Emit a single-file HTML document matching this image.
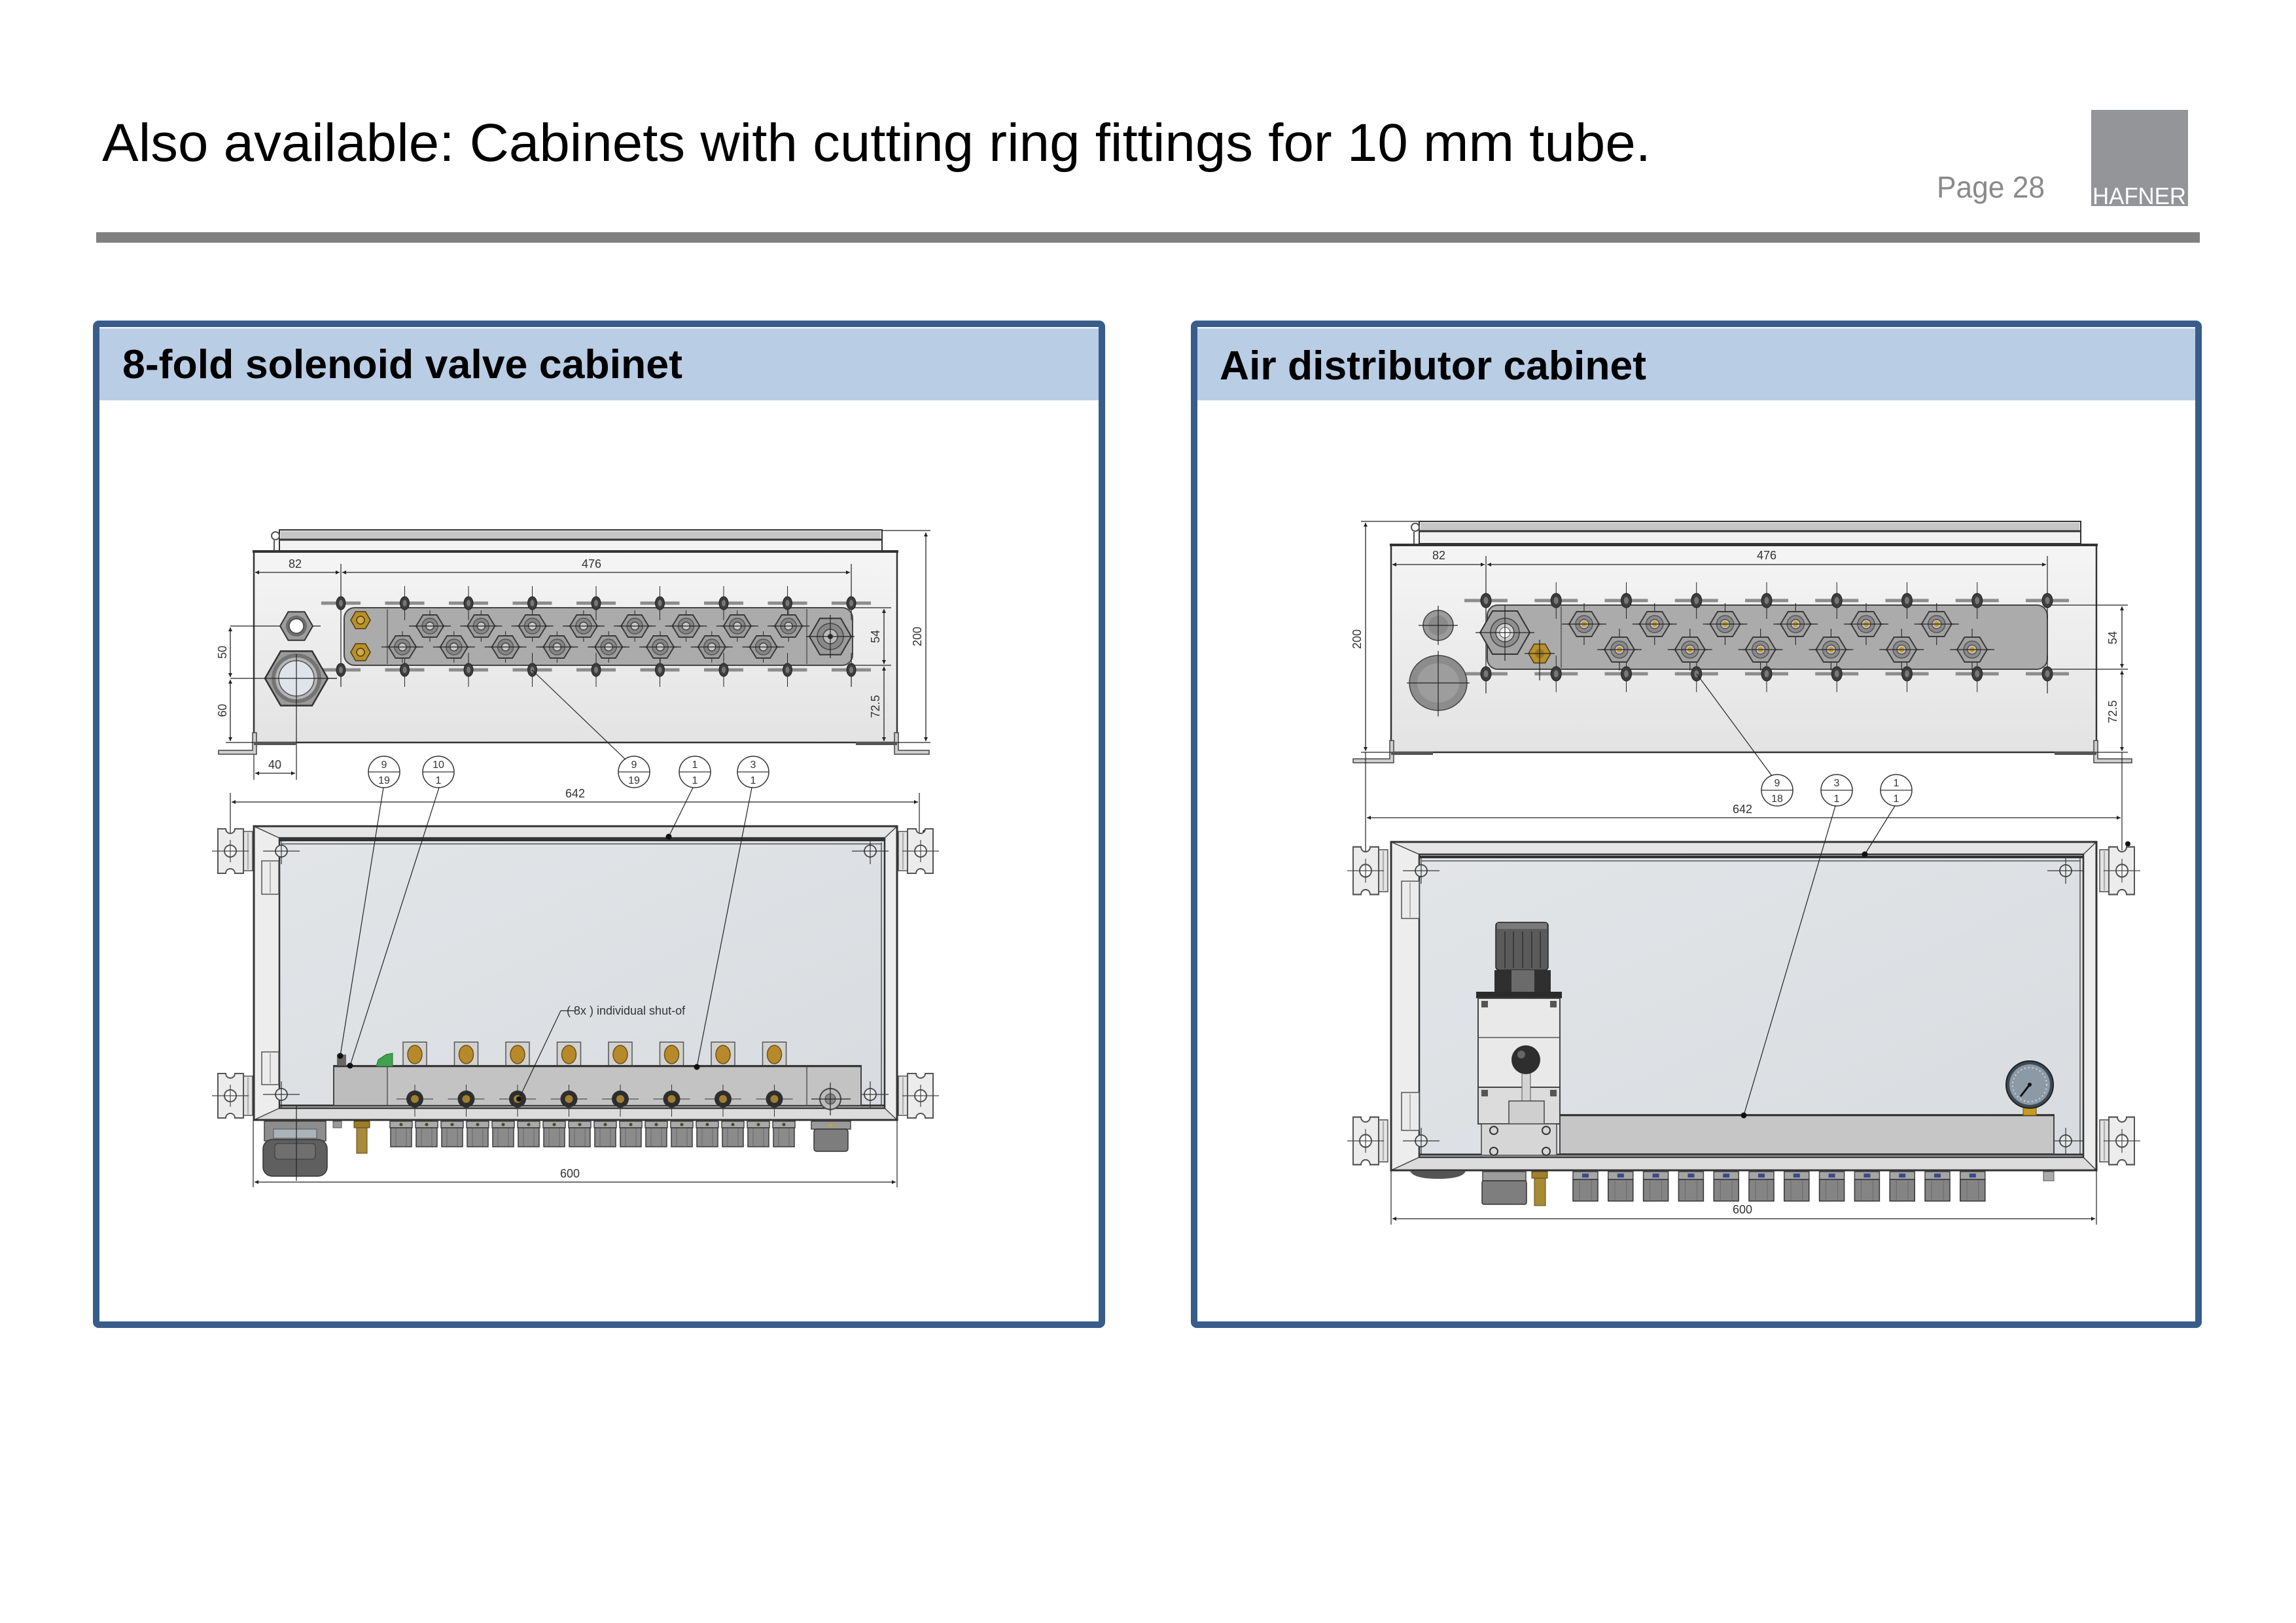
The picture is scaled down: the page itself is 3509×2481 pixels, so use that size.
<!DOCTYPE html>
<html><head><meta charset="utf-8">
<style>
html,body{margin:0;padding:0;background:#fff;}
svg{display:block;}
.t{font-family:"Liberation Sans",Arial,sans-serif;}
.c{font-family:"Liberation Sans Narrow","Liberation Sans",sans-serif;font-size:18px;fill:#333;}
.b{font-family:"Liberation Sans Narrow","Liberation Sans",sans-serif;font-size:16px;fill:#333;text-anchor:middle;}
.d{stroke:#222;stroke-width:1.3;fill:none;}
.l{stroke:#222;stroke-width:1.2;fill:none;}
</style></head><body>
<svg width="3509" height="2481" viewBox="0 0 3509 2481" xmlns="http://www.w3.org/2000/svg">
<defs>
 <marker id="ar" viewBox="0 0 10 10" refX="10" refY="5" markerWidth="14" markerHeight="6" orient="auto-start-reverse" markerUnits="userSpaceOnUse">
  <path d="M0,0 L10,5 L0,10 z" fill="#222"/>
 </marker>
 <linearGradient id="gTop" x1="0" y1="0" x2="0" y2="1">
  <stop offset="0" stop-color="#f5f5f5"/><stop offset="1" stop-color="#e3e3e3"/>
 </linearGradient>
 <linearGradient id="gPan" x1="0" y1="0" x2="1" y2="1">
  <stop offset="0" stop-color="#e2e5e8"/><stop offset="1" stop-color="#d8dce0"/>
 </linearGradient>
 <g id="hx">
  <line x1="-32" y1="0" x2="32" y2="0" stroke="#222" stroke-width="1.3"/>
  <line x1="0" y1="-24" x2="0" y2="24" stroke="#222" stroke-width="1"/>
  <polygon points="21,0 10.5,-17 -10.5,-17 -21,0 -10.5,17 10.5,17" fill="#9d9d9d" stroke="#3a3a3a" stroke-width="2"/>
  <circle r="12" fill="#858585" stroke="#555" stroke-width="1.5"/>
  <circle r="6" fill="#c8c8c8" stroke="#444" stroke-width="1.5"/>
  <line x1="-26" y1="0" x2="26" y2="0" stroke="#222" stroke-width="1.3"/>
 </g>
 <g id="hr">
  <line x1="-34" y1="0" x2="34" y2="0" stroke="#222" stroke-width="1.3"/>
  <line x1="0" y1="-32" x2="0" y2="32" stroke="#222" stroke-width="1.1"/>
  <polygon points="23,0 11.5,-19 -11.5,-19 -23,0 -11.5,19 11.5,19" fill="#a2a2a2" stroke="#3a3a3a" stroke-width="2"/>
  <circle r="13" fill="#8a8a8a" stroke="#555" stroke-width="1.5"/>
  <circle r="7" fill="#bdbdbd" stroke="#444" stroke-width="1.2"/>
  <circle r="4" fill="#c8961e"/>
  <line x1="-28" y1="0" x2="28" y2="0" stroke="#222" stroke-width="1.3"/>
 </g>
 <g id="sc">
  <line x1="0" y1="-26" x2="0" y2="26" stroke="#222" stroke-width="1"/>
  <line x1="-30" y1="0" x2="30" y2="0" stroke="#8c8c8c" stroke-width="5"/>
  <ellipse rx="7" ry="10" fill="#3d3d3d" stroke="#222"/>
  <ellipse rx="3" ry="5" fill="#777"/>
 </g>
 <g id="sr">
  <line x1="0" y1="-28" x2="0" y2="28" stroke="#222" stroke-width="1"/>
  <line x1="-33" y1="0" x2="33" y2="0" stroke="#8c8c8c" stroke-width="5"/>
  <ellipse rx="8" ry="11" fill="#3d3d3d" stroke="#222"/>
  <ellipse rx="3.5" ry="5.5" fill="#777"/>
 </g>
 <g id="fb">
  <rect x="-17" y="0" width="34" height="10" fill="#a9a9a9" stroke="#444" stroke-width="1.5"/>
  <circle cx="0" cy="5" r="2.5" fill="#4a4a20"/>
  <rect x="-16" y="10" width="32" height="29" fill="#8b8b8b" stroke="#3a3a3a" stroke-width="1.5"/>
  <line x1="-8" y1="11" x2="-8" y2="38" stroke="#6a6a6a"/>
  <line x1="8" y1="11" x2="8" y2="38" stroke="#6a6a6a"/>
 </g>
 <g id="fr">
  <rect x="-19" y="0" width="38" height="12" fill="#a5a5a5" stroke="#444" stroke-width="1.5"/>
  <rect x="-5" y="3" width="10" height="6" fill="#3a4a8a"/>
  <rect x="-19" y="12" width="38" height="33" fill="#848484" stroke="#333" stroke-width="1.5"/>
  <line x1="-9" y1="13" x2="-9" y2="44" stroke="#6a6a6a"/>
  <line x1="9" y1="13" x2="9" y2="44" stroke="#6a6a6a"/>
 </g>
 <g id="tb">
  <rect x="20" y="-30" width="14" height="60" fill="#e2e2e2" stroke="#555" stroke-width="1.5"/>
  <line x1="27" y1="-28" x2="27" y2="28" stroke="#777"/>
  <path d="M-19,-34 H-7 A7,7 0 0 0 7,-34 H20 V34 H7 A7,7 0 0 0 -7,34 H-19 Z" fill="#ececec" stroke="#555" stroke-width="2"/>
  <circle r="9" fill="#fafafa" stroke="#555" stroke-width="2"/>
  <line x1="-28" y1="0" x2="28" y2="0" stroke="#444" stroke-width="1.2"/>
  <line x1="0" y1="-17" x2="0" y2="17" stroke="#444" stroke-width="1.2"/>
 </g>
 <g id="mh">
  <circle r="9" fill="#e6e8ea" stroke="#444" stroke-width="1.8"/>
  <line x1="-28" y1="0" x2="28" y2="0" stroke="#333" stroke-width="1.2"/>
  <line x1="0" y1="-20" x2="0" y2="20" stroke="#333" stroke-width="1.2"/>
 </g>
 <g id="bl">
  <circle r="24" fill="#fff" stroke="#333" stroke-width="1.5"/>
  <line x1="-24" y1="0" x2="24" y2="0" stroke="#333" stroke-width="1.3"/>
 </g>
</defs>

<!-- ===== Page header ===== -->
<text class="t" x="156" y="246" font-size="82" fill="#000" textLength="2367" lengthAdjust="spacingAndGlyphs">Also available: Cabinets with cutting ring fittings for 10 mm tube.</text>
<text class="t" x="2960" y="302" font-size="46" fill="#8a8a8a" textLength="165" lengthAdjust="spacingAndGlyphs">Page 28</text>
<rect x="3196" y="168" width="148" height="147" fill="#939598"/>
<text class="t" x="3198" y="312" font-size="36" fill="#fff" textLength="143" lengthAdjust="spacingAndGlyphs">HAFNER</text>
<rect x="147" y="355" width="3215" height="16" fill="#808080"/>

<!-- ===== Panels ===== -->
<rect x="147" y="495" width="1537" height="1530" rx="4" fill="#fff" stroke="#385d8a" stroke-width="10"/>
<rect x="152" y="502" width="1527" height="110" fill="#b9cde5"/>
<text class="t" x="187" y="578" font-size="62" font-weight="bold" fill="#000" textLength="856" lengthAdjust="spacingAndGlyphs">8-fold solenoid valve cabinet</text>

<rect x="1825" y="495" width="1535" height="1530" rx="4" fill="#fff" stroke="#385d8a" stroke-width="10"/>
<rect x="1830" y="502" width="1525" height="110" fill="#b9cde5"/>
<text class="t" x="1864" y="580" font-size="62" font-weight="bold" fill="#000" textLength="652" lengthAdjust="spacingAndGlyphs">Air distributor cabinet</text>

<!-- ===== LEFT: top view ===== -->
<rect x="427" y="810" width="921" height="32" fill="#f2f2f2" stroke="#333" stroke-width="2"/>
<rect x="429" y="812" width="917" height="12" fill="#c6c6c6"/>
<line x1="427" y1="825" x2="1348" y2="825" stroke="#333" stroke-width="3"/>
<circle cx="421" cy="819" r="6" fill="none" stroke="#555" stroke-width="2"/>
<line x1="419" y1="826" x2="419" y2="842" stroke="#555" stroke-width="2"/>
<rect x="388" y="843" width="983" height="292" fill="url(#gTop)" stroke="#333" stroke-width="2.5"/>
<line x1="386" y1="843" x2="1373" y2="843" stroke="#333" stroke-width="4"/>
<path d="M334,1147 H386 V1120 H392 V1153 H334 Z" fill="#cfcfcf" stroke="#444" stroke-width="1.5"/>
<path d="M1420,1147 H1373 V1120 H1367 V1153 H1420 Z" fill="#cfcfcf" stroke="#444" stroke-width="1.5"/>
<rect x="388" y="1134" width="64" height="5" fill="#555"/>
<rect x="1308" y="1134" width="63" height="5" fill="#555"/>

<!-- dims top -->
<line class="d" x1="390" y1="875" x2="519" y2="875" marker-start="url(#ar)" marker-end="url(#ar)"/>
<line class="d" x1="523" y1="875" x2="1299" y2="875" marker-start="url(#ar)" marker-end="url(#ar)"/>
<line class="l" x1="521" y1="862" x2="521" y2="1050"/>
<line class="l" x1="1301" y1="862" x2="1301" y2="1050"/>
<text class="c" x="451" y="868" text-anchor="middle">82</text>
<text class="c" x="904" y="868" text-anchor="middle">476</text>

<!-- manifold -->
<rect x="526" y="929" width="777" height="88" rx="16" fill="#ababab" stroke="#444" stroke-width="2"/>
<line x1="592" y1="931" x2="592" y2="1015" stroke="#555" stroke-width="1.5"/>
<line x1="1233" y1="931" x2="1233" y2="1015" stroke="#555" stroke-width="1.5"/>
<line class="l" x1="1303" y1="929" x2="1362" y2="929"/>
<line class="l" x1="1303" y1="1017" x2="1362" y2="1017"/>

<!-- screws -->
<use href="#sc" x="521" y="922"/><use href="#sc" x="618.5" y="922"/><use href="#sc" x="716" y="922"/>
<use href="#sc" x="813.5" y="922"/><use href="#sc" x="911" y="922"/><use href="#sc" x="1008.5" y="922"/>
<use href="#sc" x="1106" y="922"/><use href="#sc" x="1203.5" y="922"/><use href="#sc" x="1301" y="922"/>
<use href="#sc" x="521" y="1024"/><use href="#sc" x="618.5" y="1024"/><use href="#sc" x="716" y="1024"/>
<use href="#sc" x="813.5" y="1024"/><use href="#sc" x="911" y="1024"/><use href="#sc" x="1008.5" y="1024"/>
<use href="#sc" x="1106" y="1024"/><use href="#sc" x="1203.5" y="1024"/><use href="#sc" x="1301" y="1024"/>

<!-- brass fittings -->
<g stroke="#4d3a0c" stroke-width="1.5">
<polygon points="566,948 558.5,935 543.5,935 536,948 543.5,961 558.5,961" fill="#b8902c"/>
<circle cx="551" cy="948" r="6" fill="#d4aa45"/>
<polygon points="566,997 558.5,984 543.5,984 536,997 543.5,1010 558.5,1010" fill="#b8902c"/>
<circle cx="551" cy="997" r="6" fill="#d4aa45"/>
</g>

<!-- hex fittings -->
<use href="#hx" x="657" y="957"/><use href="#hx" x="735.3" y="957"/><use href="#hx" x="813.6" y="957"/><use href="#hx" x="891.9" y="957"/>
<use href="#hx" x="970.2" y="957"/><use href="#hx" x="1048.5" y="957"/><use href="#hx" x="1126.8" y="957"/><use href="#hx" x="1205.1" y="957"/>
<use href="#hx" x="615" y="989"/><use href="#hx" x="693.8" y="989"/><use href="#hx" x="772.6" y="989"/><use href="#hx" x="851.4" y="989"/>
<use href="#hx" x="930.2" y="989"/><use href="#hx" x="1009" y="989"/><use href="#hx" x="1087.8" y="989"/><use href="#hx" x="1166.6" y="989"/>

<!-- right big fitting -->
<polygon points="1301,973 1285,945.3 1253,945.3 1237,973 1253,1000.7 1285,1000.7" fill="#9a9a9a" stroke="#333" stroke-width="2"/>
<circle cx="1269" cy="973" r="20" fill="#888" stroke="#444" stroke-width="1.5"/>
<circle cx="1269" cy="973" r="11" fill="#bbb" stroke="#444" stroke-width="1.5"/>
<circle cx="1269" cy="973" r="4" fill="#333"/>
<line class="l" x1="1232" y1="973" x2="1306" y2="973"/>
<line class="l" x1="1269" y1="940" x2="1269" y2="1006"/>

<!-- left glands -->
<line class="l" x1="352" y1="957" x2="490" y2="957"/>
<line class="l" x1="352" y1="1037" x2="515" y2="1037"/>
<polygon points="478,957 465.5,935.3 440.5,935.3 428,957 440.5,978.7 465.5,978.7" fill="#9c9c9c" stroke="#333" stroke-width="2"/>
<circle cx="453" cy="957" r="16" fill="#6d6d6d"/>
<circle cx="453" cy="957" r="11" fill="#fff" stroke="#444" stroke-width="1.5"/>
<polygon points="501,1037 477,995.4 429,995.4 405,1037 429,1078.6 477,1078.6" fill="#9a9a9a" stroke="#333" stroke-width="2.5"/>
<circle cx="453" cy="1037" r="38" fill="#747474"/>
<circle cx="453" cy="1037" r="32" fill="#b5b5b5"/>
<circle cx="453" cy="1037" r="27" fill="#dfe4ea" stroke="#555" stroke-width="1.5"/>
<line class="l" x1="453" y1="1000" x2="453" y2="1192"/>
<line class="l" x1="405" y1="1037" x2="515" y2="1037"/>

<!-- left dims -->
<line class="d" x1="352" y1="959" x2="352" y2="1035" marker-start="url(#ar)" marker-end="url(#ar)"/>
<line class="d" x1="352" y1="1039" x2="352" y2="1133" marker-start="url(#ar)" marker-end="url(#ar)"/>
<line class="l" x1="345" y1="1135" x2="388" y2="1135"/>
<text class="c" transform="translate(346,997) rotate(-90)" text-anchor="middle">50</text>
<text class="c" transform="translate(346,1086) rotate(-90)" text-anchor="middle">60</text>
<!-- right dims -->
<line class="d" x1="1351" y1="931" x2="1351" y2="1015" marker-start="url(#ar)" marker-end="url(#ar)"/>
<line class="d" x1="1351" y1="1019" x2="1351" y2="1133" marker-start="url(#ar)" marker-end="url(#ar)"/>
<line class="d" x1="1415" y1="814" x2="1415" y2="1133" marker-start="url(#ar)" marker-end="url(#ar)"/>
<line class="l" x1="1348" y1="811" x2="1422" y2="811"/>
<line class="l" x1="1371" y1="1135" x2="1422" y2="1135"/>
<text class="c" transform="translate(1344,973) rotate(-90)" text-anchor="middle">54</text>
<text class="c" transform="translate(1344,1080) rotate(-90)" text-anchor="middle">72.5</text>
<text class="c" transform="translate(1408,973) rotate(-90)" text-anchor="middle">200</text>
<!-- 40 -->
<line class="l" x1="388" y1="1153" x2="388" y2="1192"/>
<line class="d" x1="390" y1="1182" x2="451" y2="1182" marker-start="url(#ar)" marker-end="url(#ar)"/>
<text class="c" x="420" y="1175" text-anchor="middle">40</text>

<!-- balloons -->
<use href="#bl" x="587" y="1180"/><text class="b" x="587" y="1174">9</text><text class="b" x="587" y="1198">19</text>
<use href="#bl" x="670" y="1180"/><text class="b" x="670" y="1174">10</text><text class="b" x="670" y="1198">1</text>
<use href="#bl" x="969" y="1180"/><text class="b" x="969" y="1174">9</text><text class="b" x="969" y="1198">19</text>
<use href="#bl" x="1062" y="1180"/><text class="b" x="1062" y="1174">1</text><text class="b" x="1062" y="1198">1</text>
<use href="#bl" x="1151" y="1180"/><text class="b" x="1151" y="1174">3</text><text class="b" x="1151" y="1198">1</text>
<line class="l" x1="956" y1="1161" x2="813" y2="1024"/>

<!-- 642 -->
<line class="l" x1="352" y1="1212" x2="352" y2="1300"/>
<line class="l" x1="1405" y1="1212" x2="1405" y2="1275"/>
<line class="d" x1="354" y1="1226" x2="1403" y2="1226" marker-start="url(#ar)" marker-end="url(#ar)"/>
<text class="c" x="879" y="1219" text-anchor="middle">642</text>
<circle cx="1414" cy="1272" r="4" fill="#111"/>

<!-- ===== LEFT: front view ===== -->
<use href="#tb" x="352" y="1301"/><use href="#tb" x="352" y="1675"/>
<g transform="translate(1407,1301) scale(-1,1)"><use href="#tb"/></g>
<g transform="translate(1407,1675) scale(-1,1)"><use href="#tb"/></g>
<rect x="388" y="1263" width="983" height="449" fill="#e5e5e5" stroke="#333" stroke-width="3"/>
<polygon points="388,1263 427,1281 427,1694 388,1712" fill="#ededed"/>
<polygon points="1371,1263 1352,1281 1352,1694 1371,1712" fill="#ececec"/>
<polygon points="388,1712 427,1694 1352,1694 1371,1712" fill="#dcdcdc"/>
<line x1="388" y1="1263" x2="427" y2="1281" stroke="#444" stroke-width="1.5"/>
<line x1="1371" y1="1263" x2="1352" y2="1281" stroke="#444" stroke-width="1.5"/>
<line x1="388" y1="1712" x2="427" y2="1694" stroke="#444" stroke-width="1.5"/>
<line x1="1371" y1="1712" x2="1352" y2="1694" stroke="#444" stroke-width="1.5"/>
<rect x="388" y="1263" width="983" height="449" fill="none" stroke="#333" stroke-width="3"/>
<rect x="427" y="1281" width="925" height="413" fill="url(#gPan)" stroke="#333" stroke-width="2.5"/>
<line x1="427" y1="1284" x2="1352" y2="1284" stroke="#333" stroke-width="4"/>
<line x1="431" y1="1290" x2="1348" y2="1290" stroke="#555" stroke-width="1.5"/>
<line x1="1347" y1="1288" x2="1347" y2="1690" stroke="#555" stroke-width="1.5"/>
<line x1="427" y1="1690" x2="1352" y2="1690" stroke="#333" stroke-width="3"/>
<rect x="400" y="1316" width="26" height="51" fill="#ebebeb" stroke="#555" stroke-width="1.5"/>
<line x1="413" y1="1318" x2="413" y2="1365" stroke="#777"/>
<rect x="400" y="1608" width="26" height="50" fill="#ebebeb" stroke="#555" stroke-width="1.5"/>
<line x1="413" y1="1610" x2="413" y2="1656" stroke="#777"/>
<use href="#mh" x="430" y="1301"/><use href="#mh" x="1330" y="1301"/>
<use href="#mh" x="430" y="1673"/><use href="#mh" x="1330" y="1673"/>

<!-- coils -->
<g stroke="#555" stroke-width="1.5">
<rect x="616" y="1593" width="36" height="36" fill="#d2d2d2"/><ellipse cx="634" cy="1612" rx="11" ry="14" fill="#b8892a" stroke="#6b5418"/>
<rect x="694.5" y="1593" width="36" height="36" fill="#d2d2d2"/><ellipse cx="712.5" cy="1612" rx="11" ry="14" fill="#b8892a" stroke="#6b5418"/>
<rect x="773" y="1593" width="36" height="36" fill="#d2d2d2"/><ellipse cx="791" cy="1612" rx="11" ry="14" fill="#b8892a" stroke="#6b5418"/>
<rect x="851.5" y="1593" width="36" height="36" fill="#d2d2d2"/><ellipse cx="869.5" cy="1612" rx="11" ry="14" fill="#b8892a" stroke="#6b5418"/>
<rect x="930" y="1593" width="36" height="36" fill="#d2d2d2"/><ellipse cx="948" cy="1612" rx="11" ry="14" fill="#b8892a" stroke="#6b5418"/>
<rect x="1008.5" y="1593" width="36" height="36" fill="#d2d2d2"/><ellipse cx="1026.5" cy="1612" rx="11" ry="14" fill="#b8892a" stroke="#6b5418"/>
<rect x="1087" y="1593" width="36" height="36" fill="#d2d2d2"/><ellipse cx="1105" cy="1612" rx="11" ry="14" fill="#b8892a" stroke="#6b5418"/>
<rect x="1165.5" y="1593" width="36" height="36" fill="#d2d2d2"/><ellipse cx="1183.5" cy="1612" rx="11" ry="14" fill="#b8892a" stroke="#6b5418"/>
</g>

<!-- manifold front -->
<rect x="510" y="1629" width="806" height="61" fill="#c3c3c3" stroke="#444" stroke-width="2"/>
<rect x="511" y="1630" width="81" height="59" fill="#bdbdbd"/>
<line x1="592" y1="1629" x2="592" y2="1690" stroke="#555" stroke-width="1.5"/>
<line x1="1233" y1="1629" x2="1233" y2="1690" stroke="#555" stroke-width="1.5"/>
<line x1="510" y1="1630" x2="1316" y2="1630" stroke="#333" stroke-width="2.5"/>
<polygon points="575,1630 578,1620 590,1612 600,1610 600,1630" fill="#3fa34d" stroke="#2a6b33"/>
<rect x="515" y="1612" width="14" height="17" fill="#666"/>
<circle cx="520" cy="1614" r="4.5" fill="#111"/>
<circle cx="535" cy="1629" r="4.5" fill="#111"/>

<!-- knobs -->
<g>
<g transform="translate(634,1680)"><line x1="-28" y1="0" x2="28" y2="0" stroke="#333"/><line x1="0" y1="-22" x2="0" y2="27" stroke="#333"/><circle r="13" fill="#2e2e2e"/><circle r="6" fill="#a08030"/></g>
<g transform="translate(712.5,1680)"><line x1="-28" y1="0" x2="28" y2="0" stroke="#333"/><line x1="0" y1="-22" x2="0" y2="27" stroke="#333"/><circle r="13" fill="#2e2e2e"/><circle r="6" fill="#a08030"/></g>
<g transform="translate(791,1680)"><line x1="-28" y1="0" x2="28" y2="0" stroke="#333"/><line x1="0" y1="-22" x2="0" y2="27" stroke="#333"/><circle r="13" fill="#2e2e2e"/><circle r="6" fill="#a08030"/></g>
<g transform="translate(869.5,1680)"><line x1="-28" y1="0" x2="28" y2="0" stroke="#333"/><line x1="0" y1="-22" x2="0" y2="27" stroke="#333"/><circle r="13" fill="#2e2e2e"/><circle r="6" fill="#a08030"/></g>
<g transform="translate(948,1680)"><line x1="-28" y1="0" x2="28" y2="0" stroke="#333"/><line x1="0" y1="-22" x2="0" y2="27" stroke="#333"/><circle r="13" fill="#2e2e2e"/><circle r="6" fill="#a08030"/></g>
<g transform="translate(1026.5,1680)"><line x1="-28" y1="0" x2="28" y2="0" stroke="#333"/><line x1="0" y1="-22" x2="0" y2="27" stroke="#333"/><circle r="13" fill="#2e2e2e"/><circle r="6" fill="#a08030"/></g>
<g transform="translate(1105,1680)"><line x1="-28" y1="0" x2="28" y2="0" stroke="#333"/><line x1="0" y1="-22" x2="0" y2="27" stroke="#333"/><circle r="13" fill="#2e2e2e"/><circle r="6" fill="#a08030"/></g>
<g transform="translate(1183.5,1680)"><line x1="-28" y1="0" x2="28" y2="0" stroke="#333"/><line x1="0" y1="-22" x2="0" y2="27" stroke="#333"/><circle r="13" fill="#2e2e2e"/><circle r="6" fill="#a08030"/></g>
</g>
<circle cx="1269" cy="1680" r="16" fill="#bbb" stroke="#444" stroke-width="2"/>
<circle cx="1269" cy="1680" r="8" fill="#888" stroke="#444"/>
<line class="l" x1="1240" y1="1680" x2="1300" y2="1680"/>
<line class="l" x1="1269" y1="1655" x2="1269" y2="1705"/>

<!-- bottom fittings left -->
<use href="#fb" x="613" y="1714"/><use href="#fb" x="652" y="1714"/><use href="#fb" x="691" y="1714"/><use href="#fb" x="730" y="1714"/>
<use href="#fb" x="769" y="1714"/><use href="#fb" x="808" y="1714"/><use href="#fb" x="847" y="1714"/><use href="#fb" x="886" y="1714"/>
<use href="#fb" x="925" y="1714"/><use href="#fb" x="964" y="1714"/><use href="#fb" x="1003" y="1714"/><use href="#fb" x="1042" y="1714"/>
<use href="#fb" x="1081" y="1714"/><use href="#fb" x="1120" y="1714"/><use href="#fb" x="1159" y="1714"/><use href="#fb" x="1198" y="1714"/>
<rect x="509" y="1714" width="13" height="10" fill="#999" stroke="#555"/>
<!-- gland -->
<rect x="404" y="1714" width="94" height="30" fill="#8d8d8d" stroke="#444" stroke-width="1.5"/>
<rect x="418" y="1726" width="66" height="14" fill="#aab2ba" stroke="#555"/>
<rect x="402" y="1742" width="98" height="56" rx="14" fill="#5f5f5f" stroke="#333" stroke-width="1.5"/>
<rect x="420" y="1748" width="62" height="24" rx="5" fill="#6f6f6f" stroke="#3a3a3a"/>
<line class="l" x1="453" y1="1690" x2="453" y2="1805"/>
<!-- brass pipe -->
<rect x="541" y="1714" width="24" height="10" fill="#9c7c2c" stroke="#5a4510"/>
<rect x="545" y="1724" width="16" height="39" fill="#a98a3c" stroke="#5a4510"/>
<!-- right fitting -->
<rect x="1240" y="1714" width="60" height="12" fill="#9a9a9a" stroke="#444" stroke-width="1.5"/>
<rect x="1244" y="1726" width="52" height="34" rx="4" fill="#7d7d7d" stroke="#333" stroke-width="1.5"/>
<circle cx="1270" cy="1720" r="3" fill="#c8a030"/>

<!-- 600 -->
<line class="l" x1="387" y1="1712" x2="387" y2="1815"/>
<line class="l" x1="1371" y1="1712" x2="1371" y2="1815"/>
<line class="d" x1="389" y1="1807" x2="1369" y2="1807" marker-start="url(#ar)" marker-end="url(#ar)"/>
<text class="c" x="871" y="1800" text-anchor="middle">600</text>

<!-- callout + leaders -->
<text class="c" x="866" y="1551" font-size="17">( 8x ) individual shut-of</text>
<line class="l" x1="857" y1="1545" x2="880" y2="1545"/>
<line class="l" x1="857" y1="1545" x2="793" y2="1680"/>
<circle cx="793" cy="1680" r="4" fill="#111"/>
<line class="l" x1="586" y1="1204" x2="520" y2="1614"/>
<line class="l" x1="671" y1="1204" x2="535" y2="1629"/>
<line class="l" x1="1059" y1="1204" x2="1022" y2="1279"/>
<circle cx="1022" cy="1279" r="4.5" fill="#111"/>
<line class="l" x1="1149" y1="1204" x2="1065" y2="1631"/>
<circle cx="1065" cy="1631" r="4.5" fill="#111"/>

<!-- ===== RIGHT: top view ===== -->
<rect x="2169" y="797" width="1011" height="34" fill="#f2f2f2" stroke="#333" stroke-width="2"/>
<rect x="2171" y="799" width="1007" height="12" fill="#c6c6c6"/>
<line x1="2169" y1="812" x2="3180" y2="812" stroke="#333" stroke-width="3"/>
<circle cx="2163" cy="806" r="6" fill="none" stroke="#555" stroke-width="2"/>
<line x1="2161" y1="813" x2="2161" y2="831" stroke="#555" stroke-width="2"/>
<rect x="2126" y="833" width="1078" height="317" fill="url(#gTop)" stroke="#333" stroke-width="2.5"/>
<line x1="2124" y1="833" x2="3206" y2="833" stroke="#333" stroke-width="4"/>
<path d="M2068,1160 H2124 V1132 H2130 V1166 H2068 Z" fill="#cfcfcf" stroke="#444" stroke-width="1.5"/>
<path d="M3258,1160 H3206 V1132 H3200 V1166 H3258 Z" fill="#cfcfcf" stroke="#444" stroke-width="1.5"/>
<rect x="2126" y="1149" width="64" height="5" fill="#555"/>
<rect x="3140" y="1149" width="64" height="5" fill="#555"/>

<!-- dims -->
<line class="l" x1="2080" y1="797" x2="2169" y2="797"/>
<line class="l" x1="2080" y1="1150" x2="2126" y2="1150"/>
<line class="d" x1="2087" y1="799" x2="2087" y2="1148" marker-start="url(#ar)" marker-end="url(#ar)"/>
<text class="c" transform="translate(2080,977) rotate(-90)" text-anchor="middle">200</text>
<line class="d" x1="2128" y1="863" x2="2269" y2="863" marker-start="url(#ar)" marker-end="url(#ar)"/>
<line class="d" x1="2273" y1="863" x2="3127" y2="863" marker-start="url(#ar)" marker-end="url(#ar)"/>
<line class="l" x1="2271" y1="850" x2="2271" y2="1060"/>
<line class="l" x1="3129" y1="850" x2="3129" y2="1060"/>
<text class="c" x="2199" y="855" text-anchor="middle">82</text>
<text class="c" x="2700" y="855" text-anchor="middle">476</text>

<rect x="2273" y="925" width="856" height="98" rx="16" fill="#ababab" stroke="#444" stroke-width="2"/>
<line x1="2386" y1="927" x2="2386" y2="1021" stroke="#555" stroke-width="1.5"/>
<line class="l" x1="3131" y1="925" x2="3252" y2="925"/>
<line class="l" x1="3131" y1="1023" x2="3252" y2="1023"/>
<line class="l" x1="3204" y1="1150" x2="3252" y2="1150"/>
<line class="d" x1="3243" y1="927" x2="3243" y2="1021" marker-start="url(#ar)" marker-end="url(#ar)"/>
<line class="d" x1="3243" y1="1025" x2="3243" y2="1148" marker-start="url(#ar)" marker-end="url(#ar)"/>
<text class="c" transform="translate(3235,975) rotate(-90)" text-anchor="middle">54</text>
<text class="c" transform="translate(3235,1088) rotate(-90)" text-anchor="middle">72.5</text>

<use href="#sr" x="2271" y="918"/><use href="#sr" x="2378.25" y="918"/><use href="#sr" x="2485.5" y="918"/>
<use href="#sr" x="2592.75" y="918"/><use href="#sr" x="2700" y="918"/><use href="#sr" x="2807.25" y="918"/>
<use href="#sr" x="2914.5" y="918"/><use href="#sr" x="3021.75" y="918"/><use href="#sr" x="3129" y="918"/>
<use href="#sr" x="2271" y="1030"/><use href="#sr" x="2378.25" y="1030"/><use href="#sr" x="2485.5" y="1030"/>
<use href="#sr" x="2592.75" y="1030"/><use href="#sr" x="2700" y="1030"/><use href="#sr" x="2807.25" y="1030"/>
<use href="#sr" x="2914.5" y="1030"/><use href="#sr" x="3021.75" y="1030"/><use href="#sr" x="3129" y="1030"/>

<use href="#hr" x="2421" y="954"/><use href="#hr" x="2528.75" y="954"/><use href="#hr" x="2636.5" y="954"/>
<use href="#hr" x="2744.25" y="954"/><use href="#hr" x="2852" y="954"/><use href="#hr" x="2959.75" y="954"/>
<use href="#hr" x="2475" y="993"/><use href="#hr" x="2582.8" y="993"/><use href="#hr" x="2690.6" y="993"/>
<use href="#hr" x="2798.4" y="993"/><use href="#hr" x="2906.2" y="993"/><use href="#hr" x="3014" y="993"/>

<!-- big hex & brass -->
<polygon points="2338,967 2319,934 2281,934 2262,967 2281,1000 2319,1000" fill="#a3a3a3" stroke="#333" stroke-width="2"/>
<circle cx="2300" cy="967" r="22" fill="#8f8f8f" stroke="#444" stroke-width="1.5"/>
<circle cx="2300" cy="967" r="14" fill="#cfcfcf" stroke="#444" stroke-width="1.5"/>
<circle cx="2300" cy="967" r="8" fill="#fff" stroke="#555"/>
<line class="l" x1="2255" y1="967" x2="2345" y2="967"/>
<line class="l" x1="2300" y1="925" x2="2300" y2="1010"/>
<polygon points="2370,999 2361.5,984.5 2344.5,984.5 2336,999 2344.5,1013.5 2361.5,1013.5" fill="#b8902c" stroke="#4d3a0c" stroke-width="1.5"/>
<circle cx="2353" cy="999" r="7" fill="#9b7520"/>
<line class="l" x1="2330" y1="999" x2="2376" y2="999"/>
<line class="l" x1="2353" y1="978" x2="2353" y2="1040"/>

<!-- glands right top -->
<circle cx="2198" cy="956" r="23" fill="#9b9b9b" stroke="#444" stroke-width="1.5"/>
<circle cx="2198" cy="956" r="15" fill="#8a8a8a"/>
<line class="l" x1="2168" y1="956" x2="2228" y2="956"/>
<line class="l" x1="2198" y1="926" x2="2198" y2="986"/>
<ellipse cx="2198" cy="1044" rx="44" ry="42" fill="#8c8c8c" stroke="#444" stroke-width="1.5"/>
<ellipse cx="2198" cy="1044" rx="32" ry="30" fill="#9d9d9d"/>
<line class="l" x1="2150" y1="1044" x2="2246" y2="1044"/>
<line class="l" x1="2198" y1="995" x2="2198" y2="1095"/>

<!-- balloons right -->
<use href="#bl" x="2716" y="1208"/><text class="b" x="2716" y="1202">9</text><text class="b" x="2716" y="1226">18</text>
<use href="#bl" x="2807" y="1208"/><text class="b" x="2807" y="1202">3</text><text class="b" x="2807" y="1226">1</text>
<use href="#bl" x="2898" y="1208"/><text class="b" x="2898" y="1202">1</text><text class="b" x="2898" y="1226">1</text>
<line class="l" x1="2708" y1="1186" x2="2593" y2="1030"/>

<!-- 642 right -->
<line class="l" x1="2087" y1="1150" x2="2087" y2="1310"/>
<line class="l" x1="3243" y1="1150" x2="3243" y2="1300"/>
<line class="d" x1="2089" y1="1250" x2="3241" y2="1250" marker-start="url(#ar)" marker-end="url(#ar)"/>
<text class="c" x="2663" y="1243" text-anchor="middle">642</text>
<circle cx="3252" cy="1290" r="4" fill="#111"/>

<!-- ===== RIGHT: front view ===== -->
<g transform="translate(2087,1331) scale(1,1.07)"><use href="#tb"/></g>
<g transform="translate(2087,1744) scale(1,1.07)"><use href="#tb"/></g>
<g transform="translate(3243,1331) scale(-1,1.07)"><use href="#tb"/></g>
<g transform="translate(3243,1744) scale(-1,1.07)"><use href="#tb"/></g>
<rect x="2126" y="1287" width="1078" height="502" fill="#e5e5e5" stroke="#333" stroke-width="3"/>
<polygon points="2126,1287 2169,1306 2169,1769 2126,1789" fill="#ededed"/>
<polygon points="3204,1287 3184,1306 3184,1769 3204,1789" fill="#ececec"/>
<polygon points="2126,1789 2169,1769 3184,1769 3204,1789" fill="#dcdcdc"/>
<line x1="2126" y1="1287" x2="2169" y2="1306" stroke="#444" stroke-width="1.5"/>
<line x1="3204" y1="1287" x2="3184" y2="1306" stroke="#444" stroke-width="1.5"/>
<line x1="2126" y1="1789" x2="2169" y2="1769" stroke="#444" stroke-width="1.5"/>
<line x1="3204" y1="1789" x2="3184" y2="1769" stroke="#444" stroke-width="1.5"/>
<rect x="2126" y="1287" width="1078" height="502" fill="none" stroke="#333" stroke-width="3"/>
<rect x="2169" y="1306" width="1015" height="463" fill="url(#gPan)" stroke="#333" stroke-width="2.5"/>
<line x1="2169" y1="1310" x2="3184" y2="1310" stroke="#333" stroke-width="4"/>
<line x1="2173" y1="1316" x2="3180" y2="1316" stroke="#555" stroke-width="1.5"/>
<line x1="3179" y1="1312" x2="3179" y2="1765" stroke="#555" stroke-width="1.5"/>
<line x1="2169" y1="1765" x2="3184" y2="1765" stroke="#333" stroke-width="3"/>
<rect x="2142" y="1347" width="27" height="57" fill="#ebebeb" stroke="#555" stroke-width="1.5"/>
<line x1="2155" y1="1349" x2="2155" y2="1402" stroke="#777"/>
<rect x="2142" y="1670" width="27" height="58" fill="#ebebeb" stroke="#555" stroke-width="1.5"/>
<line x1="2155" y1="1672" x2="2155" y2="1726" stroke="#777"/>
<use href="#mh" x="2172" y="1331"/><use href="#mh" x="3157" y="1331"/>
<use href="#mh" x="2172" y="1744"/><use href="#mh" x="3157" y="1744"/>

<!-- regulator -->
<rect x="2286" y="1410" width="80" height="73" rx="5" fill="#5b5b5b" stroke="#222" stroke-width="1.5"/>
<rect x="2288" y="1411" width="76" height="9" fill="#7a7a7a"/>
<g stroke="#3a3a3a" stroke-width="2">
<line x1="2300" y1="1424" x2="2300" y2="1480"/><line x1="2313" y1="1424" x2="2313" y2="1480"/>
<line x1="2327" y1="1424" x2="2327" y2="1480"/><line x1="2341" y1="1424" x2="2341" y2="1480"/>
<line x1="2354" y1="1424" x2="2354" y2="1480"/>
</g>
<rect x="2284" y="1483" width="86" height="36" fill="#2f2f2f"/>
<rect x="2310" y="1483" width="35" height="36" fill="#6b6b6b"/>
<rect x="2256" y="1516" width="131" height="10" fill="#2b2b2b"/>
<rect x="2259" y="1526" width="125" height="136" fill="#e9e9e9" stroke="#444" stroke-width="2"/>
<line x1="2259" y1="1586" x2="2384" y2="1586" stroke="#555" stroke-width="1.5"/>
<rect x="2264" y="1530" width="10" height="10" fill="#555"/>
<rect x="2369" y="1530" width="10" height="10" fill="#555"/>
<rect x="2259" y="1662" width="125" height="56" fill="#dcdcdc" stroke="#444" stroke-width="2"/>
<rect x="2264" y="1666" width="10" height="10" fill="#555"/>
<rect x="2369" y="1666" width="10" height="10" fill="#555"/>
<rect x="2326" y="1638" width="13" height="47" fill="#d4d4d4" stroke="#555"/>
<circle cx="2332" cy="1620" r="22" fill="#2e2e2e"/>
<circle cx="2325" cy="1612" r="6" fill="#666"/>
<rect x="2306" y="1683" width="54" height="36" fill="#cfcfcf" stroke="#444" stroke-width="1.5"/>
<rect x="2264" y="1718" width="115" height="48" fill="#d6d6d6" stroke="#444" stroke-width="1.5"/>
<g fill="none" stroke="#333" stroke-width="2">
<circle cx="2283" cy="1728" r="6"/><circle cx="2363" cy="1728" r="6"/>
<circle cx="2283" cy="1760" r="6"/><circle cx="2363" cy="1760" r="6"/>
</g>
<!-- manifold right -->
<rect x="2384" y="1704" width="755" height="60" fill="#c6c6c6" stroke="#444" stroke-width="2"/>
<line x1="2384" y1="1705" x2="3139" y2="1705" stroke="#333" stroke-width="2.5"/>
<line x1="3139" y1="1730" x2="3139" y2="1765" stroke="#444" stroke-width="2"/>
<!-- gauge -->
<rect x="3092" y="1692" width="20" height="13" fill="#c89b1d" stroke="#6b5418"/>
<circle cx="3102" cy="1658" r="36" fill="#3b4a55" stroke="#222" stroke-width="2"/>
<circle cx="3102" cy="1658" r="31" fill="#8c9aa5"/>
<circle cx="3102" cy="1658" r="26" fill="none" stroke="#d0d8de" stroke-width="2" stroke-dasharray="2 4"/>
<line x1="3102" y1="1658" x2="3088" y2="1676" stroke="#111" stroke-width="3"/>
<circle cx="3102" cy="1658" r="3" fill="#111"/>

<!-- bottom right -->
<use href="#fr" x="2423" y="1791"/><use href="#fr" x="2476.8" y="1791"/><use href="#fr" x="2530.6" y="1791"/>
<use href="#fr" x="2584.4" y="1791"/><use href="#fr" x="2638.2" y="1791"/><use href="#fr" x="2692" y="1791"/>
<use href="#fr" x="2745.8" y="1791"/><use href="#fr" x="2799.6" y="1791"/><use href="#fr" x="2853.4" y="1791"/>
<use href="#fr" x="2907.2" y="1791"/><use href="#fr" x="2961" y="1791"/><use href="#fr" x="3014.8" y="1791"/>
<rect x="2266" y="1791" width="66" height="14" fill="#9d9d9d" stroke="#444" stroke-width="1.5"/>
<rect x="2265" y="1805" width="68" height="36" rx="3" fill="#7e7e7e" stroke="#333" stroke-width="1.5"/>
<rect x="2341" y="1791" width="24" height="10" fill="#a0802e" stroke="#5a4510"/>
<rect x="2345" y="1801" width="17" height="42" fill="#a88a36" stroke="#5a4510"/>
<path d="M2155,1790 Q2160,1802 2197,1802 Q2236,1802 2240,1790 Z" fill="#555"/>
<rect x="3123" y="1791" width="16" height="14" fill="#aaa" stroke="#555"/>

<!-- 600 right -->
<line class="l" x1="2126" y1="1789" x2="2126" y2="1872"/>
<line class="l" x1="3204" y1="1789" x2="3204" y2="1872"/>
<line class="d" x1="2128" y1="1863" x2="3202" y2="1863" marker-start="url(#ar)" marker-end="url(#ar)"/>
<text class="c" x="2663" y="1855" text-anchor="middle">600</text>

<!-- leaders right -->
<line class="l" x1="2805" y1="1232" x2="2665" y2="1705"/>
<circle cx="2665" cy="1705" r="4.5" fill="#111"/>
<line class="l" x1="2896" y1="1232" x2="2850" y2="1306"/>
<circle cx="2850" cy="1306" r="4.5" fill="#111"/>

</svg>
</body></html>
